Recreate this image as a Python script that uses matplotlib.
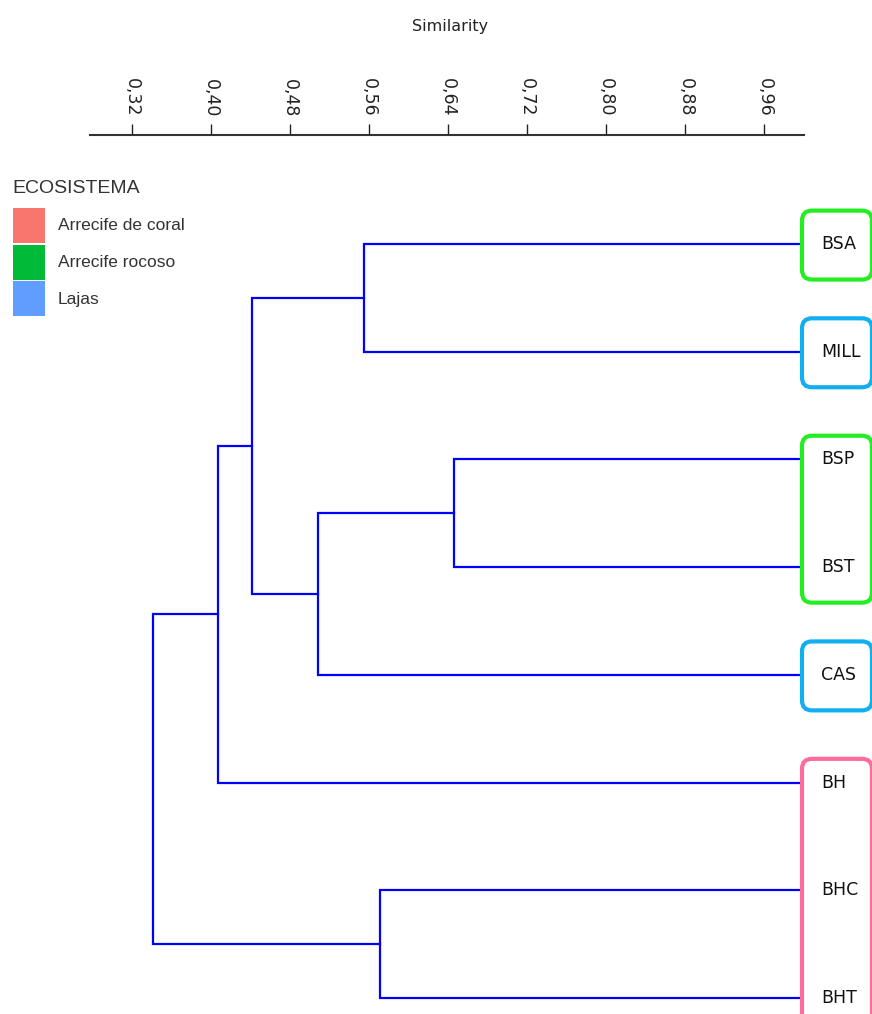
import numpy as np
import matplotlib.pyplot as plt
from matplotlib.patches import FancyBboxPatch, Rectangle
from matplotlib.transforms import offset_copy

# Hojas del dendrograma (de arriba a abajo)
hojas = ["BSA", "MILL", "BSP", "BST", "CAS", "BH", "BHC", "BHT"]

# Uniones: (nodo a, nodo b, similitud). 0-7 son hojas, 8 en adelante uniones previas
uniones = [
    (0, 1, 0.555),
    (2, 3, 0.646),
    (9, 4, 0.508),
    (8, 10, 0.442),
    (11, 5, 0.407),
    (6, 7, 0.571),
    (12, 13, 0.341),
]

# Eje de similitud
ticks = [0.32, 0.40, 0.48, 0.56, 0.64, 0.72, 0.80, 0.88, 0.96]
tick_labels = ["0,32", "0,40", "0,48", "0,56", "0,64", "0,72", "0,80", "0,88", "0,96"]

# Leyenda
ecosistemas = ["Arrecife de coral", "Arrecife rocoso", "Lajas"]
colores_leyenda = ["#F8766D", "#00BA38", "#619CFF"]

# Cajas por ecosistema
grupos = [["BSA"], ["MILL"], ["BSP", "BST"], ["CAS"], ["BH", "BHC", "BHT"]]
colores_grupo = ["#22ee22", "#11aff0", "#22ee22", "#11aff0", "#ff6b9b"]

W, H = 872, 1014
fig = plt.figure(figsize=(W / 100, H / 100), dpi=100)
ax = fig.add_axes([90 / W, 0, (804 - 90) / W, 1 - 135 / H])

# Dendrograma
px = {i: 1.0 for i in range(len(hojas))}
py = {i: float(i) for i in range(len(hojas))}
for k, (a, b, s) in enumerate(uniones):
    n = len(hojas) + k
    ax.plot([px[a], s, s, px[b]], [py[a], py[a], py[b], py[b]],
            color="#0000ff", lw=1.6, solid_joinstyle="miter")
    px[n] = s
    py[n] = (py[a] + py[b]) / 2

ax.set_xlim(0.2777, 1.0)
ax.set_ylim(7.149, -1.012)

# Ejes
ax.xaxis.tick_top()
ax.set_xticks(ticks)
ax.set_xticklabels(tick_labels)
ax.tick_params(axis="x", direction="out", length=8, width=1, pad=5,
               labelsize=12.5, labelrotation=270, colors="#222222")
ax.set_yticks([])
for lado in ["left", "right", "bottom"]:
    ax.spines[lado].set_visible(False)
ax.spines["top"].set_linewidth(1.5)
ax.spines["top"].set_color("#333333")

fig.text(450 / W, 1 - 26 / H, "Similarity", ha="center", va="center",
         fontsize=11.5, color="#222222")

# Etiquetas de las hojas
trans = offset_copy(ax.transData, fig=fig, x=17, y=0, units="dots")
for i, h in enumerate(hojas):
    ax.text(1.0, i, h, transform=trans, ha="left", va="center",
            fontsize=12.5, color="#111111", clip_on=False)

# Cajas redondeadas
x_px = 0.08 / 79.1
y_px = 1 / 107.7
for g, c in zip(grupos, colores_grupo):
    pad_sup = 0.31 if len(g) == 1 else 0.22
    y0 = hojas.index(g[0]) - pad_sup
    y1 = hojas.index(g[-1]) + 0.33
    caja = FancyBboxPatch((1.0 - 2 * x_px, y0), 70 * x_px, y1 - y0,
                          boxstyle=f"round,pad=0,rounding_size={10 * x_px}",
                          mutation_aspect=y_px / x_px,
                          facecolor="none", edgecolor=c, lw=3,
                          clip_on=False, zorder=3)
    ax.add_patch(caja)

# Leyenda
fig.text(12 / W, 1 - 188 / H, "ECOSISTEMA", ha="left", va="center",
         fontsize=14, family="Liberation Sans", color="#333333")
for i, (e, c) in enumerate(zip(ecosistemas, colores_leyenda)):
    top = 208 + i * 36.5
    fig.add_artist(Rectangle((13 / W, 1 - (top + 35) / H), 32 / W, 35 / H,
                             transform=fig.transFigure, facecolor=c,
                             edgecolor="none"))
    fig.text(58 / W, 1 - (top + 18) / H, e, ha="left", va="center",
             fontsize=12.5, family="Liberation Sans", color="#333333")

plt.savefig("out.png", dpi=100)
